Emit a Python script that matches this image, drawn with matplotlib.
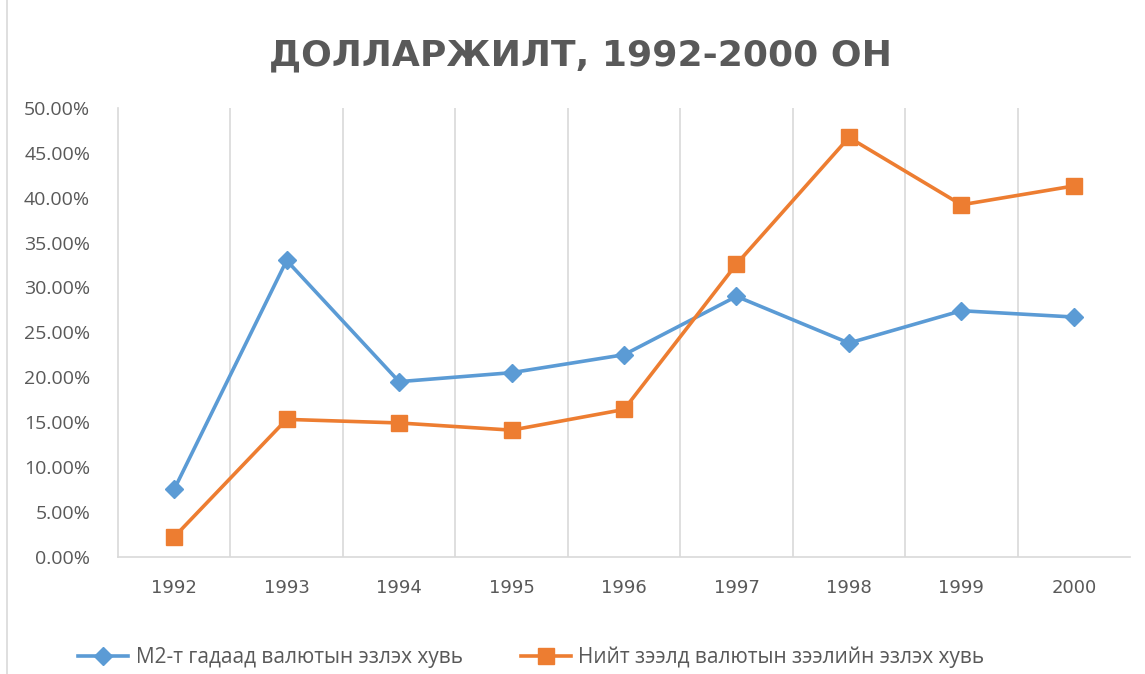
import numpy as np
import matplotlib.pyplot as plt
from matplotlib.ticker import FuncFormatter

# data
years = ["1992", "1993", "1994", "1995", "1996", "1997", "1998", "1999", "2000"]
m2_share = [7.5, 33.0, 19.5, 20.5, 22.5, 29.0, 23.8, 27.4, 26.7]
loan_share = [2.2, 15.3, 14.9, 14.1, 16.4, 32.6, 46.7, 39.2, 41.3]

plt.rcParams['font.family'] = ['Open Sans', 'DejaVu Sans']

fig = plt.figure(figsize=(11.45, 6.74), dpi=100)
ax = fig.add_axes([0.103, 0.174, 0.884, 0.666])

x = np.arange(len(years))
ax.plot(x, m2_share, color='#5B9BD5', lw=2.6, marker='D', ms=9,
        label='М2-т гадаад валютын эзлэх хувь')
ax.plot(x, loan_share, color='#ED7D31', lw=2.6, marker='s', ms=11,
        label='Нийт зээлд валютын зээлийн эзлэх хувь')

ax.set_xlim(-0.5, len(years) - 0.5)
ax.set_ylim(0, 50)
ax.set_yticks(np.arange(0, 51, 5))
ax.yaxis.set_major_formatter(FuncFormatter(lambda v, p: f"{v:.2f}%"))
ax.set_xticks(x)
ax.set_xticklabels(years)

# vertical gridlines between categories
for b in np.arange(0.5, len(years) - 0.5, 1):
    ax.axvline(b, color='#D9D9D9', lw=1.2, zorder=0)

for s in ['top', 'right']:
    ax.spines[s].set_visible(False)
ax.spines['left'].set_color('#D9D9D9')
ax.spines['left'].set_linewidth(1.2)
ax.spines['bottom'].set_color('#D9D9D9')
ax.spines['bottom'].set_linewidth(1.2)
ax.tick_params(length=0, colors='#595959', labelsize=14)
ax.tick_params(axis='x', pad=16)
ax.tick_params(axis='y', pad=20)
for t in ax.get_xticklabels():
    t.set_fontfamily(['DejaVu Sans'])
    t.set_fontsize(13)

fig.text(0.507, 0.918, 'ДОЛЛАРЖИЛТ, 1992-2000 ОН', ha='center', va='center',
         fontsize=26, fontweight='bold', color='#595959',
         family=['DejaVu Sans'])

fig.legend(loc='center left', bbox_to_anchor=(0.052, 0.025), ncol=2, frameon=False,
           fontsize=15, labelcolor='#595959', columnspacing=2.8, handlelength=2.4,
           handletextpad=0.35)

# chart border on the left
fig.add_artist(plt.Line2D([0.006, 0.006], [0, 1], color='#D9D9D9', lw=1.2,
                          transform=fig.transFigure))

fig.savefig('out.png', dpi=100)
